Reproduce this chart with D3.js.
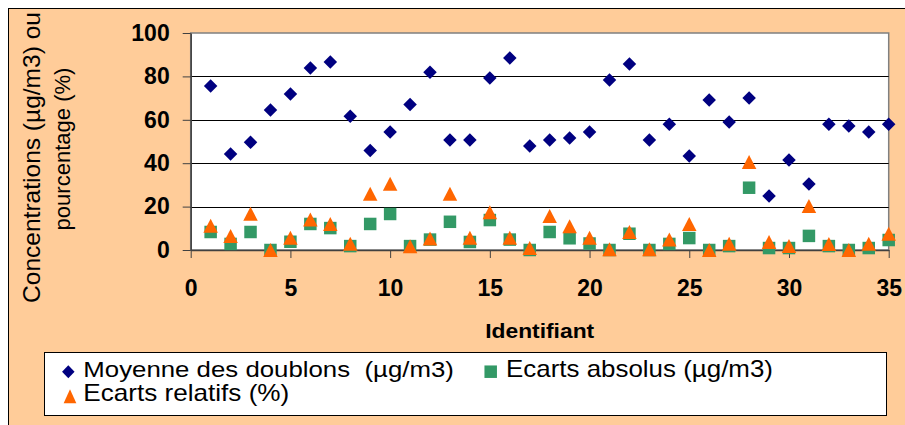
<!DOCTYPE html>
<html>
<head>
<meta charset="utf-8">
<script src="https://cdn.jsdelivr.net/npm/d3@7"></script>
<style>
  body { margin: 0; background: #fff; }
  text { font-family: "Liberation Sans", Arial, sans-serif; }
</style>
</head>
<body>
<div class="chart"></div>
<script>
const ids = [1, 2, 3, 4, 5, 6, 7, 8, 9, 10, 11, 12, 13, 14, 15, 16, 17, 18,
  19, 20, 21, 22, 23, 24, 25, 26, 27, 28, 29, 30, 31, 32, 33, 34, 35];
const moyenne = [75.6, 44.2, 49.6, 64.5, 71.9, 83.9, 86.6, 61.6, 45.9, 54.4, 67.1, 81.9,
  50.7, 50.7, 79.3, 88.5, 47.9, 50.7, 51.6, 54.4, 78.3, 85.7, 50.7, 58, 43.3,
  69.1, 59, 70, 24.9, 41.5, 30.4, 58, 57.1, 54.4, 58];
const ecartsAbs = [8.3, 2.8, 8.3, 0, 3.8, 12, 10.1, 1.8, 12, 16.6, 1.8, 4.8,
  13, 3.7, 13.8, 4.8, 0, 8.3, 5.4, 3, 0, 7.5, 0, 2.8, 5.5,
  0, 1.8, 28.7, 0.9, 0.9, 6.5, 1.8, 0, 0.9, 4.6];
const ecartsRel = [11.2, 6.5, 16.7, 0, 5.7, 14, 12, 2.9, 25.9, 30.5, 1.7, 5.3,
  25.9, 5.6, 17.4, 5.6, 0.9, 15.7, 11, 5.6, 0.3, 8.3, 0.3, 4.8, 12,
  0, 2.9, 40.6, 3.7, 1.8, 20.3, 2.8, 0, 2.9, 7.5];
const xTicks = [0, 5, 10, 15, 20, 25, 30, 35];
const yTicks = [0, 20, 40, 60, 80, 100];

const width = 905, height = 425;
const plot = {left: 190.7, right: 888.7, top: 33, bottom: 250};

const svg = d3.select(".chart")
  .append("svg")
  .attr("width", width)
  .attr("height", height);

// chart area
svg.append("rect")
  .attr("x", 8.5).attr("y", 8.5)
  .attr("width", width + 10).attr("height", height + 10)
  .attr("fill", "#FFCC99")
  .attr("stroke", "#000");

const x = d3.scaleLinear().domain([0, 35]).range([plot.left, plot.right]);
const y = d3.scaleLinear().domain([0, 100]).range([plot.bottom, plot.top]);

// plot area
svg.append("rect")
  .attr("x", plot.left).attr("y", plot.top)
  .attr("width", plot.right - plot.left).attr("height", plot.bottom - plot.top)
  .attr("fill", "#fff")
  .attr("stroke", "#808080")
  .attr("stroke-width", 1.5);

// gridlines
svg.append("g")
  .selectAll("line")
  .data(yTicks.filter(d => d > 0 && d < 100))
  .join("line")
  .attr("x1", plot.left).attr("x2", plot.right)
  .attr("y1", d => Math.round(y(d)) + 0.5)
  .attr("y2", d => Math.round(y(d)) + 0.5)
  .attr("stroke", "#000");

// axes
const yAxis = svg.append("g")
  .attr("transform", `translate(${plot.left}, 0)`)
  .call(d3.axisLeft(y).tickValues(yTicks).tickSize(8).tickPadding(13).tickSizeOuter(0));
const xAxis = svg.append("g")
  .attr("transform", `translate(0, ${plot.bottom})`)
  .call(d3.axisBottom(x).tickValues(xTicks).tickSize(8).tickPadding(22).tickSizeOuter(0));

[xAxis, yAxis].forEach(g => {
  g.select(".domain").attr("stroke", "#404040").attr("stroke-width", 1.5);
  g.selectAll(".tick line").attr("stroke", "#404040");
  g.selectAll(".tick text")
    .attr("fill", "#000")
    .style("font-family", '"Liberation Sans", Arial, sans-serif')
    .style("font-weight", "bold")
    .style("font-size", "23px");
});

// squeeze or stretch a text horizontally to a measured width
function fitText(sel, w, base) {
  const natural = sel.node().getComputedTextLength();
  sel.attr("transform", `${base} scale(${w / natural}, 1)`);
}

// axis titles
svg.append("text")
  .attr("x", 539.7).attr("y", 338)
  .attr("text-anchor", "middle")
  .attr("textLength", 109).attr("lengthAdjust", "spacingAndGlyphs")
  .style("font-size", "20px").style("font-weight", "bold")
  .text("Identifiant");

const yTitle1 = svg.append("text")
  .attr("text-anchor", "middle")
  .style("font-size", "23px")
  .text("Concentrations (µg/m3) ou");
fitText(yTitle1, 291, "translate(40, 157.5) rotate(-90)");
const yTitle2 = svg.append("text")
  .attr("text-anchor", "middle")
  .style("font-size", "23px")
  .text("pourcentage (%)");
fitText(yTitle2, 163, "translate(70, 149) rotate(-90)");

// marker shapes
function diamond(w, h) {
  return {draw(ctx) {
    ctx.moveTo(0, -h / 2); ctx.lineTo(w / 2, 0); ctx.lineTo(0, h / 2); ctx.lineTo(-w / 2, 0); ctx.closePath();
  }};
}
function square(s) {
  return {draw(ctx) { ctx.rect(-s / 2, -s / 2, s, s); }};
}
function triangle(w, h) {
  return {draw(ctx) {
    ctx.moveTo(0, -h / 2); ctx.lineTo(w / 2, h / 2); ctx.lineTo(-w / 2, h / 2); ctx.closePath();
  }};
}

const series = [
  {name: "Moyenne des doublons  (µg/m3)", values: moyenne, color: "#000080",
    shape: diamond(13.5, 13.5), legendShape: diamond(12.5, 13), lx: 68.3, ly: 371.7, tx: 83.3, ty: 376.7, tl: 370.7},
  {name: "Ecarts absolus (µg/m3)", values: ecartsAbs, color: "#339966",
    shape: square(12.5), legendShape: square(12.5), lx: 490.7, ly: 371.7, tx: 506, ty: 376.7, tl: 267},
  {name: "Ecarts relatifs (%)", values: ecartsRel, color: "#FF6600",
    shape: triangle(14.5, 14), legendShape: triangle(12.7, 14), lx: 70, ly: 396.3, tx: 83.3, ty: 401, tl: 206}
];

series.forEach(s => {
  svg.append("g")
    .selectAll("path")
    .data(ids)
    .join("path")
    .attr("transform", (d, i) => `translate(${x(d)}, ${y(s.values[i])})`)
    .attr("d", d3.symbol(s.shape))
    .attr("fill", s.color);
});

// legend
svg.append("rect")
  .attr("x", 44.5).attr("y", 352.5)
  .attr("width", 842).attr("height", 63)
  .attr("fill", "#fff")
  .attr("stroke", "#000");

series.forEach(s => {
  svg.append("path")
    .attr("transform", `translate(${s.lx}, ${s.ly})`)
    .attr("d", d3.symbol(s.legendShape))
    .attr("fill", s.color);
  const t = svg.append("text")
    .style("font-size", "23px")
    .style("white-space", "pre")
    .text(s.name);
  fitText(t, s.tl, `translate(${s.tx}, ${s.ty})`);
});
</script>
</body>
</html>
